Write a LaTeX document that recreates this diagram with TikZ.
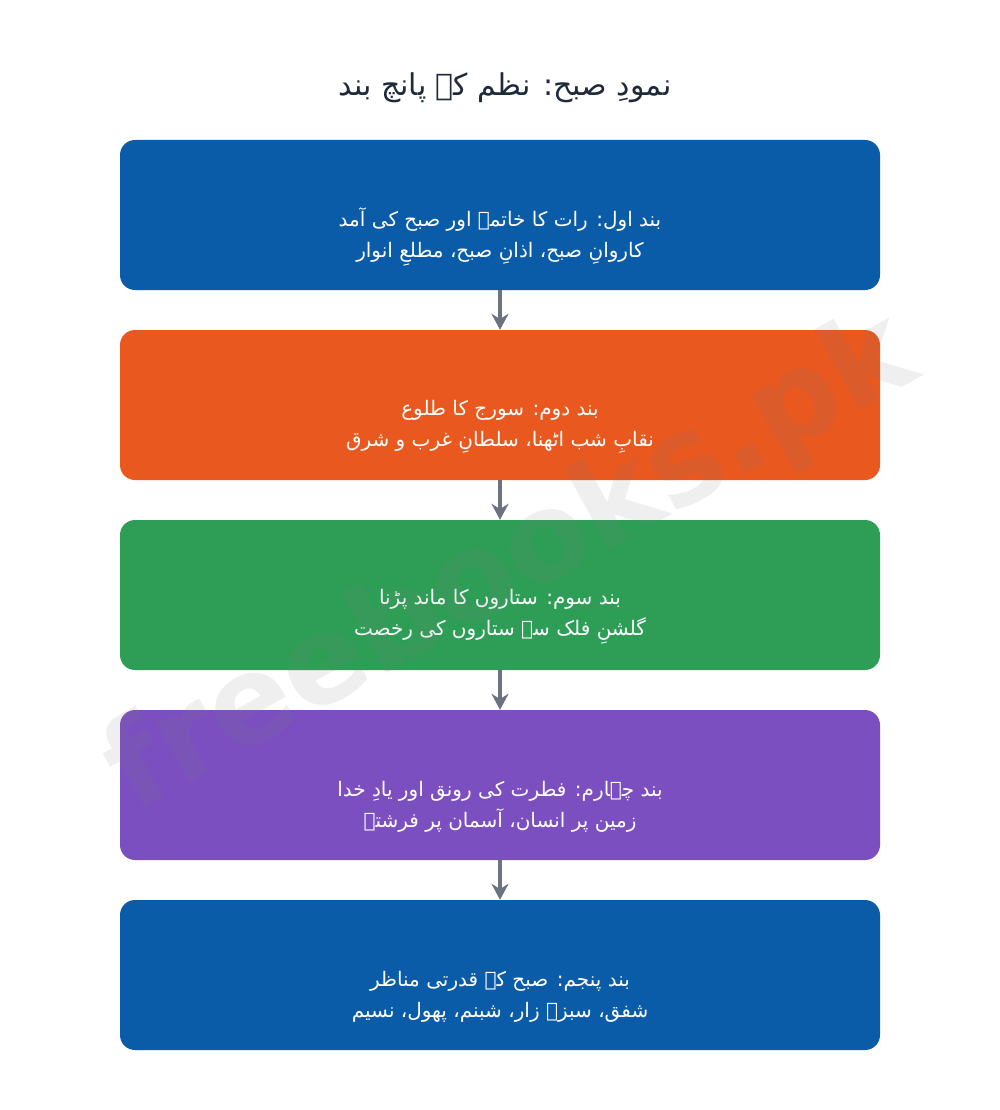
\documentclass[tikz,border=0pt]{standalone}
\usepackage{fontspec}
\usetikzlibrary{arrows.meta}
\TeXXeTstate=1
\newfontfamily\arabicfont[Script=Arabic]{DejaVu Sans}
\newfontfamily\wmfont{DejaVu Sans}
\definecolor{bandblue}{HTML}{0B5CA8}
\definecolor{bandorange}{HTML}{E8581F}
\definecolor{bandgreen}{HTML}{2E9E57}
\definecolor{bandpurple}{HTML}{7B4FBF}
\definecolor{arrowgray}{HTML}{6B7280}
\definecolor{titledark}{HTML}{1E2A3A}
\begin{document}
\begin{tikzpicture}[x=1pt,y=-1pt,
  panel/.style={rounded corners=15pt, minimum width=760pt, minimum height=150pt, inner sep=0pt},
  paneltext/.style={text=white, align=center, font=\arabicfont\fontsize{20}{31}\selectfont, inner sep=0pt},
  arr/.style={draw=arrowgray, line width=4pt, -{Stealth[length=16pt,width=17pt]}},
  wm/.style={font=\wmfont\bfseries\fontsize{122}{122}\selectfont, text=gray, opacity=0.12}]
\useasboundingbox (0,0) rectangle (1000,1110);
\fill[white] (0,0) rectangle (1000,1110);
\node[text=titledark, font=\arabicfont\fontsize{30}{36}\selectfont] (title) at (505,88) {\beginR نمودِ صبح: نظم کے پانچ بند\endR};
\node[panel, fill=bandblue] (b1) at (500,215) {};
\node[panel, fill=bandorange] (b2) at (500,405) {};
\node[panel, fill=bandgreen] (b3) at (500,595) {};
\node[panel, fill=bandpurple] (b4) at (500,785) {};
\node[panel, fill=bandblue] (b5) at (500,975) {};
\node[paneltext] (t1) at ([yshift=-22pt]b1.center) {\beginR بند اول: رات کا خاتمہ اور صبح کی آمد\endR\\\beginR کاروانِ صبح، اذانِ صبح، مطلعِ انوار\endR};
\node[paneltext] (t2) at ([yshift=-22pt]b2.center) {\beginR بند دوم: سورج کا طلوع\endR\\\beginR نقابِ شب اٹھنا، سلطانِ غرب و شرق\endR};
\node[paneltext] (t3) at ([yshift=-22pt]b3.center) {\beginR بند سوم: ستاروں کا ماند پڑنا\endR\\\beginR گلشنِ فلک سے ستاروں کی رخصت\endR};
\node[paneltext] (t4) at ([yshift=-22pt]b4.center) {\beginR بند چہارم: فطرت کی رونق اور یادِ خدا\endR\\\beginR زمین پر انسان، آسمان پر فرشتے\endR};
\node[paneltext] (t5) at ([yshift=-22pt]b5.center) {\beginR بند پنجم: صبح کے قدرتی مناظر\endR\\\beginR شفق، سبزہ زار، شبنم، پھول، نسیم\endR};
\draw[arr] (b1.south) -- (b2.north);
\draw[arr] (b2.south) -- (b3.north);
\draw[arr] (b3.south) -- (b4.north);
\draw[arr] (b4.south) -- (b5.north);
\node[wm, rotate=29] (mark) at (512,565) {freebooks.pk};
\end{tikzpicture}
\end{document}
